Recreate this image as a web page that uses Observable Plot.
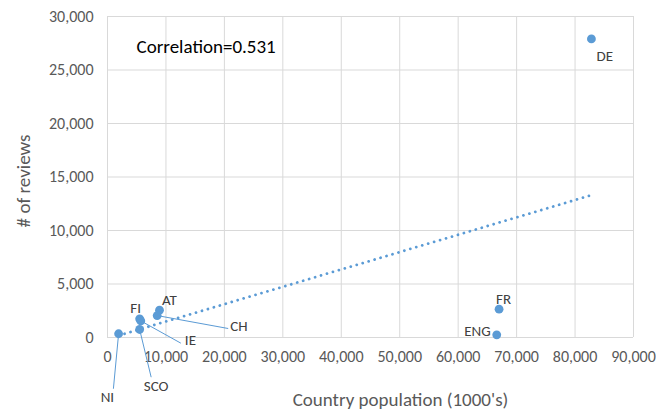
<!DOCTYPE html>
<html><head><meta charset="utf-8">
<script src="https://cdn.jsdelivr.net/npm/d3@7"></script>
<script src="https://cdn.jsdelivr.net/npm/@observablehq/plot@0.6"></script>
<style>body{margin:0;background:#fff}</style>
</head><body><div id="chart"></div>
<script>
const countries = ["DE","FR","ENG","AT","CH","FI","IE","SCO","NI"];
const population = [82800, 67000, 66600, 8900, 8500, 5500, 5700, 5500, 1900];
const reviews = [27900, 2650, 250, 2550, 2050, 1750, 1550, 750, 350];
const xTicks = [0,10000,20000,30000,40000,50000,60000,70000,80000,90000];
const yTicks = [0,5000,10000,15000,20000,25000,30000];
const correlationText = "Correlation=0.531";
const xTitle = "Country population (1000's)";
const yTitle = "# of reviews";

const data = countries.map((c,i)=>({country:c, pop:population[i], rev:reviews[i]}));
const byName = Object.fromEntries(data.map(d=>[d.country,d]));

// annotation placement (label offsets in px; leader-line ends in data units)
const direct = [
  {c:"FI", a:"middle", dx:-4, dy:-11},
  {c:"AT", a:"middle", dx:10, dy:-10},
  {c:"FR", a:"start", dx:-3, dy:-10},
  {c:"ENG", a:"end", dx:-6, dy:-4},
  {c:"DE", a:"start", dx:5, dy:17}
];
const leader = [
  {c:"CH", ex:20650, ey:840, a:"start", dx:2, dy:-2},
  {c:"IE", ex:12550, ey:-530, a:"start", dx:4, dy:-3},
  {c:"SCO", ex:7470, ey:-3710, a:"middle", dx:5, dy:9},
  {c:"NI", ex:1010, ey:-4790, a:"middle", dx:-6, dy:8}
];
const blue = "#5b9bd5";
const font = "Calibri, Carlito, Lato, sans-serif";

const marks = [
  Plot.gridX(xTicks, {stroke:"#d9d9d9", strokeOpacity:1}),
  Plot.gridY(yTicks, {stroke:"#d9d9d9", strokeOpacity:1}),
  Plot.axisX(xTicks, {tickSize:0, tickPadding:13, tickFormat:d3.format(","), fontSize:16, fill:"#595959", label:null}),
  Plot.axisY(yTicks, {tickSize:0, tickPadding:14, tickFormat:d3.format(","), fontSize:16, fill:"#595959", label:null}),
  Plot.text([xTitle], {frameAnchor:"bottom", dx:30, dy:68, fontSize:19, fill:"#595959", text:d=>d}),
  Plot.text([yTitle], {frameAnchor:"left", textAnchor:"middle", dx:-84, dy:4, rotate:-90, fontSize:19, fill:"#595959", text:d=>d}),
  Plot.linearRegressionY(data, {x:"pop", y:"rev", ci:0, stroke:blue, strokeWidth:2.8, strokeLinecap:"round", strokeDasharray:"0.01,6.2"}),
  Plot.link(leader, {x1:d=>byName[d.c].pop, y1:d=>byName[d.c].rev, x2:"ex", y2:"ey", stroke:blue, strokeWidth:1}),
  Plot.dot(data, {x:"pop", y:"rev", r:4.4, fill:blue, stroke:null}),
  Plot.text([correlationText], {frameAnchor:"top-left", dx:29, dy:23, textAnchor:"start", fontSize:19, fill:"#000", text:d=>d})
];
for (const l of direct) {
  const d = byName[l.c];
  marks.push(Plot.text([d], {x:"pop", y:"rev", text:"country", textAnchor:l.a, dx:l.dx, dy:l.dy, fontSize:15, fill:"#404040"}));
}
for (const l of leader) {
  marks.push(Plot.text([l], {x:"ex", y:"ey", text:"c", textAnchor:l.a, dx:l.dx, dy:l.dy, fontSize:15, fill:"#404040"}));
}

const chart = Plot.plot({
  width:656, height:412,
  marginLeft:107, marginRight:23, marginTop:16, marginBottom:75,
  style:{fontFamily:font, background:"#fff", overflow:"visible"},
  x:{domain:[0,90000]},
  y:{domain:[0,30000]},
  marks
});
document.getElementById("chart").appendChild(chart);
</script>
</body></html>
